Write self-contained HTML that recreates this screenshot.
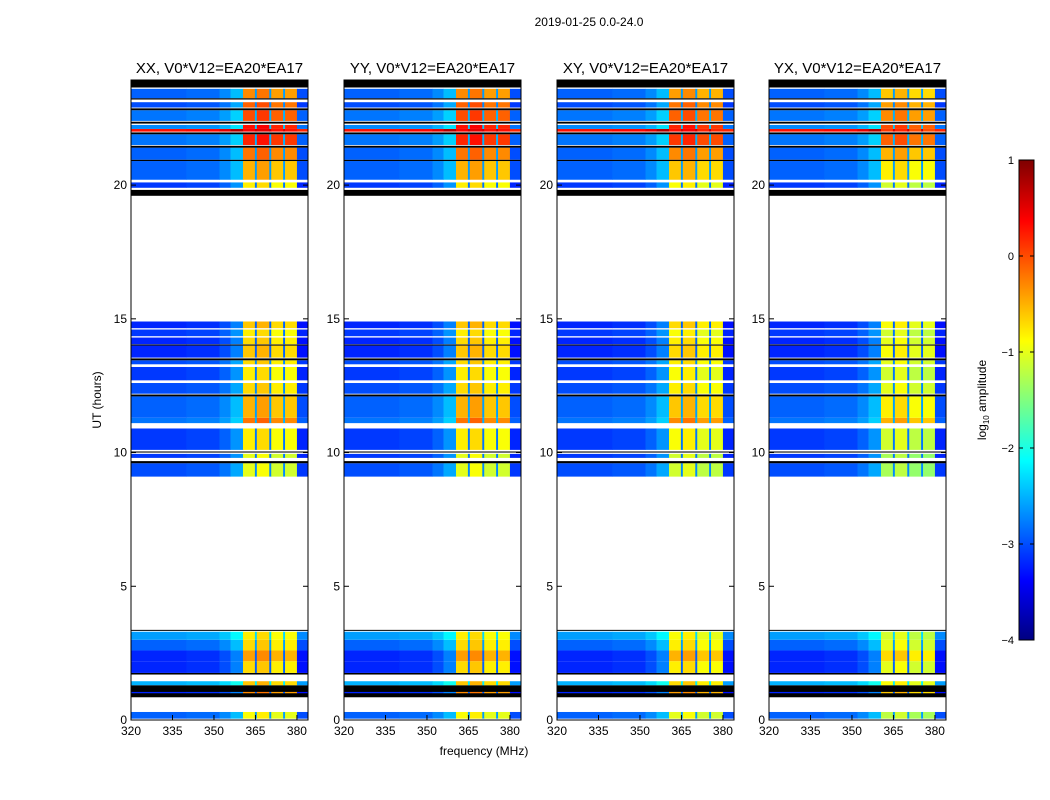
<!DOCTYPE html>
<html><head><meta charset="utf-8">
<style>
body{margin:0;background:#fff;}
svg{display:block;font-family:"Liberation Sans","DejaVu Sans",sans-serif;}
</style></head>
<body>
<svg id="fig" width="1050" height="800" viewBox="0 0 1050 800">
<text x="589" y="26" font-size="12" text-anchor="middle">2019-01-25 0.0-24.0</text>
<text x="484" y="755" font-size="12" text-anchor="middle">frequency (MHz)</text>
<text x="101" y="400" font-size="12" text-anchor="middle" transform="rotate(-90 101 400)">UT (hours)</text>
<g id="panels"></g>
<g id="cbar"></g>
<text x="986" y="400" font-size="12" text-anchor="middle" transform="rotate(-90 986 400)">log<tspan font-size="8" dy="3">10</tspan><tspan dy="-3"> amplitude</tspan></text>
</svg>
<script>
// ---- data ----
const panelNames = ["XX, V0*V12=EA20*EA17","YY, V0*V12=EA20*EA17","XY, V0*V12=EA20*EA17","YX, V0*V12=EA20*EA17"];
const panelBandShift = [0, 0, -0.1, -0.3];
const xTicks = [320,335,350,365,380];
const yTicks = [0,5,10,15,20];
const cbarTicks = [1,0,-1,-2,-3,-4];
// time segments: [startHour, endHour, bgValue, bandValue] ; null bg = flagged (black)
const timeSegs = [
 [0.05,0.3,-2.9,-0.9],[0.85,1.3,null,null],[1.0,1.05,-3.2,-0.3],[1.3,1.45,-2.5,-0.6],
 [1.7,1.76,null,null],[1.76,2.2,-3.2,-0.7],[2.2,2.6,-3.2,-0.4],[2.6,3.0,-2.9,-0.7],[3.0,3.3,-2.6,-0.8],
 [3.35,3.37,null,null],
 [9.1,9.6,-3.0,-1.0],[9.6,9.68,null,null],[9.8,9.95,-3.1,-1.0],[10.0,10.04,null,null],[10.1,10.9,-3.1,-0.8],
 [11.1,11.3,-2.8,-0.2],[11.3,12.1,-2.9,-0.5],[12.1,12.17,null,null],[12.2,12.6,-3.0,-0.7],
 [12.7,13.2,-3.1,-0.8],[13.3,13.45,-3.0,-0.7],[13.45,13.52,null,null],[13.55,14.0,-3.2,-0.6],
 [14.0,14.04,null,null],[14.05,14.3,-3.2,-0.7],[14.35,14.6,-3.1,-0.8],[14.65,14.9,-3.2,-0.6],
 [19.6,19.82,null,null],[19.9,20.1,-3.1,-0.8],[20.2,20.9,-2.9,-0.5],[20.9,20.95,null,null],
 [20.95,21.4,-2.9,-0.2],[21.4,21.47,null,null],[21.5,21.9,-2.8,0.2],[21.9,21.97,null,null],
 [22.0,22.1,0.3,0.4],[22.1,22.25,-2.7,0.3],[22.3,22.37,null,null],[22.4,22.8,-2.8,0.0],
 [22.8,22.87,null,null],[22.9,23.1,-3.0,-0.1],[23.2,23.25,null,null],[23.25,23.6,-2.9,-0.3],[23.65,23.93,null,null]
];
// frequency columns: [f0, f1, isBand, offset]
const freqCols = [
 [320,340,0,0],[340,352,0,0.05],[352,356,0,0.2],[356,360.5,0,0.45],
 [360.5,364.8,1,0],[364.8,365.5,0,0.3],[365.5,370,1,0.1],[370,370.7,0,0.3],
 [370.7,375,1,-0.1],[375,375.7,0,0.3],[375.7,380,1,-0.1],[380,384,0,-0.1]
];
// ---- layout ----
const panelX = [131,344,557,769], PW = 177, PT = 80, PB = 720;
const fMin = 320, fMax = 384, tMin = 0, tMax = 23.93;
const vMin = -4, vMax = 1;
function jet(v){
  let t = Math.max(0, Math.min(1, (v - vMin) / (vMax - vMin)));
  const f = (x)=>Math.max(0, Math.min(1, 1.5 - Math.abs(4*t - x)));
  return `rgb(${Math.round(255*f(3))},${Math.round(255*f(2))},${Math.round(255*f(1))})`;
}
const NS = "http://www.w3.org/2000/svg";
function mk(tag, attrs, parent){ const e=document.createElementNS(NS,tag); for(const k in attrs) e.setAttribute(k,attrs[k]); parent.appendChild(e); return e; }
const panels = document.getElementById('panels');
panelX.forEach((px, pi) => {
  const xs = f => px + (f - fMin) / (fMax - fMin) * PW;
  const ys = h => PB - (h - tMin) / (tMax - tMin) * (PB - PT);
  const g = mk('g', {}, panels);
  
  
  timeSegs.forEach(s => {
    const y0 = ys(s[1]), y1 = ys(s[0]);
    if (s[2] === null) {
      const r = mk('rect', {x:px, y:y0, width:PW, height:Math.max(1, y1-y0), fill:'#000'}, g);
      
      
      return;
    }
    freqCols.forEach(c => {
      const v = (c[2] ? s[3] + panelBandShift[pi] : s[2]) + c[3];
      const r = mk('rect', {x:xs(c[0]), y:y0, width:xs(c[1])-xs(c[0])+0.3, height:Math.max(1, y1-y0), fill:jet(v)}, g);
      
      
    });
  });
  const fr = mk('rect', {x:px, y:PT, width:PW, height:PB-PT, fill:'none', stroke:'#000', 'stroke-width':1}, g);
  
  
  const t = mk('text', {x:px+PW/2, y:73, 'font-size':15, 'text-anchor':'middle'}, g);
  t.textContent = panelNames[pi];
  
  
  xTicks.forEach(f => {
    const x = xs(f);
    mk('line', {x1:x, x2:x, y1:PB, y2:PB-5, stroke:'#000'}, g);
    mk('line', {x1:x, x2:x, y1:PT, y2:PT+5, stroke:'#000'}, g);
    const tl = mk('text', {x:x, y:PB+15, 'font-size':12, 'text-anchor':'middle'}, g);
    tl.textContent = f;
    
    
  });
  yTicks.forEach(h => {
    const y = ys(h);
    mk('line', {x1:px, x2:px+5, y1:y, y2:y, stroke:'#000'}, g);
    mk('line', {x1:px+PW, x2:px+PW-5, y1:y, y2:y, stroke:'#000'}, g);
    const tl = mk('text', {x:px-4, y:y+4, 'font-size':12, 'text-anchor':'end'}, g);
    tl.textContent = h;
    
    
  });
});
// colorbar
const cb = document.getElementById('cbar');
const CX = 1019, CW = 15, CT = 160, CB = 640;
const cy = v => CB - (v - vMin) / (vMax - vMin) * (CB - CT);
for (let i = 0; i < 240; i++) {
  const v0 = vMin + (vMax - vMin) * i / 240, v1 = vMin + (vMax - vMin) * (i+1) / 240;
  mk('rect', {x:CX, y:cy(v1), width:CW, height:cy(v0)-cy(v1)+0.5, fill:jet((v0+v1)/2)}, cb);
}
mk('rect', {x:CX, y:CT, width:CW, height:CB-CT, fill:'none', stroke:'#000'}, cb);
cbarTicks.forEach(v => {
  const y = cy(v);
  mk('line', {x1:CX, x2:CX+4, y1:y, y2:y, stroke:'#000'}, cb);
  mk('line', {x1:CX+CW, x2:CX+CW-4, y1:y, y2:y, stroke:'#000'}, cb);
  const tl = mk('text', {x:CX-5, y:y+4, 'font-size':11, 'text-anchor':'end'}, cb);
  tl.textContent = v < 0 ? '\u2212' + (-v) : v;
  
  
});
</script>
</body></html>
